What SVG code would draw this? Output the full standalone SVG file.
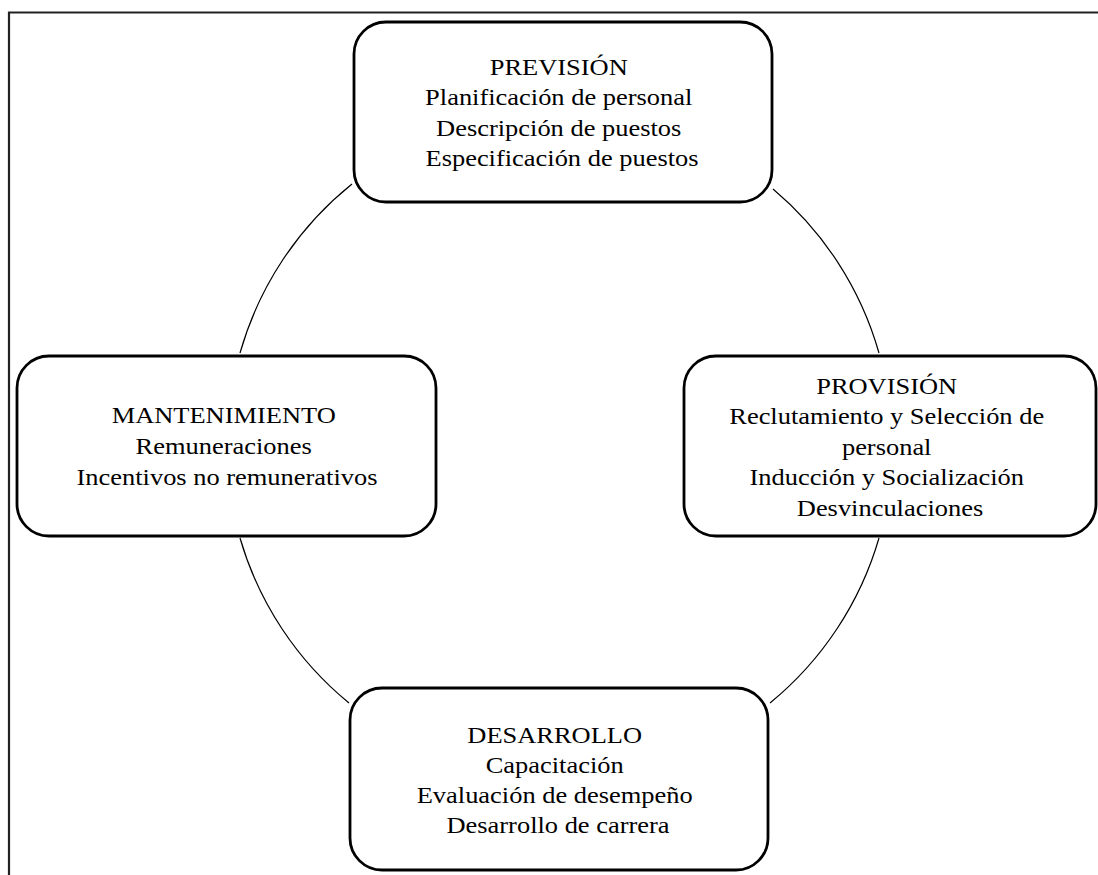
<svg xmlns="http://www.w3.org/2000/svg" width="1098" height="875" viewBox="0 0 1098 875">
  <style>
    .frame { fill: none; stroke: #222; stroke-width: 2.2; }
    .box { fill: #fff; stroke: #000; stroke-width: 2.8; }
    .ring { fill: none; stroke: #000; stroke-width: 1.2; }
    .label { font-family: "Liberation Serif", "Times New Roman", serif; font-size: 23px; fill: #000; text-anchor: middle; }
  </style>
  <rect width="1098" height="875" fill="#fff"/>

  <!-- outer frame: left and top edges -->
  <path class="frame" d="M 9 875 V 12.5 H 1098"/>

  <!-- cycle connectors -->
  <g id="connectors">
    <path class="ring" d="M 352 184 A 333 333 0 0 0 240 353"/>
    <path class="ring" d="M 773 189 A 333 333 0 0 1 879 353"/>
    <path class="ring" d="M 240 538 A 333 333 0 0 0 349 703"/>
    <path class="ring" d="M 879 538 A 333 333 0 0 1 770 703"/>
  </g>

  <!-- labels are widened slightly with a horizontal scale about each box's text centre -->
  <g id="prevision">
    <rect class="box" x="354" y="22" width="418" height="180" rx="32" ry="32"/>
    <text class="label" transform="translate(562 0) scale(1.15 1)">
      <tspan x="0" y="75">PREVISIÓN</tspan>
      <tspan x="0" y="105.5">Planificación de personal</tspan>
      <tspan x="0" y="136">Descripción de puestos</tspan>
      <tspan x="0" y="166.5">Especificación de puestos</tspan>
    </text>
  </g>

  <g id="provision">
    <rect class="box" x="684" y="356" width="412" height="180" rx="32" ry="32"/>
    <text class="label" transform="translate(890 0) scale(1.15 1)">
      <tspan x="0" y="394">PROVISIÓN</tspan>
      <tspan x="0" y="424.5">Reclutamiento y Selección de</tspan>
      <tspan x="0" y="455">personal</tspan>
      <tspan x="0" y="485.5">Inducción y Socialización</tspan>
      <tspan x="0" y="516">Desvinculaciones</tspan>
    </text>
  </g>

  <g id="mantenimiento">
    <rect class="box" x="17" y="356" width="419" height="180" rx="32" ry="32"/>
    <text class="label" transform="translate(227 0) scale(1.15 1)">
      <tspan x="0" y="423">MANTENIMIENTO</tspan>
      <tspan x="0" y="454">Remuneraciones</tspan>
      <tspan x="0" y="485">Incentivos no remunerativos</tspan>
    </text>
  </g>

  <g id="desarrollo">
    <rect class="box" x="350" y="688" width="418" height="182" rx="32" ry="32"/>
    <text class="label" transform="translate(558 0) scale(1.15 1)">
      <tspan x="0" y="743">DESARROLLO</tspan>
      <tspan x="0" y="773">Capacitación</tspan>
      <tspan x="0" y="803">Evaluación de desempeño</tspan>
      <tspan x="0" y="833">Desarrollo de carrera</tspan>
    </text>
  </g>
</svg>
